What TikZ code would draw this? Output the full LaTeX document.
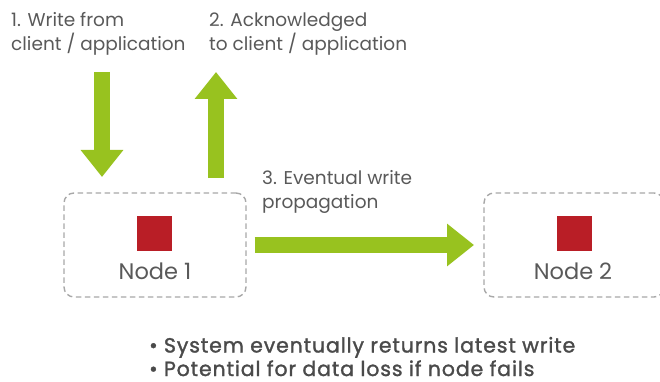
\documentclass[tikz,border=0pt]{standalone}
\usepackage{fontspec}
\setmainfont{Poppins}
\newfontfamily\bulletfont[FakeBold=1.4,LetterSpace=4.2]{Poppins}
\usepackage{tikz}
\usetikzlibrary{arrows.meta}
\usetikzlibrary{positioning}
\usetikzlibrary{calc}

\definecolor{flowgreen}{HTML}{98C21F}
\definecolor{nodered}{HTML}{B91E26}
\definecolor{boxgray}{HTML}{A8A8A8}
\definecolor{textgray}{HTML}{595959}
\definecolor{bulletgray}{HTML}{4A4A4A}

\begin{document}
\begin{tikzpicture}[x=1pt,y=-1pt,
    flow/.style={draw=flowgreen,line width=16pt,-{Triangle[width=41pt,length=27pt]}},
    nodebox/.style={draw=boxgray,line width=1.4pt,dash pattern=on 5.5pt off 3.5pt,rounded corners=10pt,minimum height=104pt,inner sep=0pt},
    redsq/.style={fill=nodered,minimum size=35pt,inner sep=0pt},
    lbl/.style={text=textgray,font=\fontsize{18.5}{24}\selectfont,align=left,inner sep=0pt,anchor=base west},
    nodetxt/.style={text=textgray,font=\fontsize{22.5}{24}\selectfont,inner sep=0pt,anchor=base}]
  \useasboundingbox (0,0) rectangle (660,382);
  % labels (base = last line)
  \node[lbl] (write) at (11,51) {1. Write from\\client / application};
  \node[lbl] (ack) at (209,51) {2. Acknowledged\\to client / application};
  \node[lbl] (prop) at (262,208) {3. Eventual write\\propagation};
  % node 1 and node 2
  \node[nodebox,minimum width=182pt] (n1) at (155,245) {};
  \node[redsq] (sq1) at (154.5,233.5) {};
  \node[nodetxt] (t1) at (155,279) {Node 1};
  \node[nodebox,minimum width=180pt] (n2) at (574,245) {};
  \node[redsq] (sq2) at (574.5,233.5) {};
  \node[nodetxt] (t2) at (573,279) {Node 2};
  % arrows
  \coordinate (wtop) at (102,72);
  \coordinate (abot) at (216,178);
  \draw[flow] (wtop) -- (wtop |- 0,177);
  \draw[flow] (abot) -- (abot |- 0,72);
  \draw[flow] (n1.east |- 0,245) ++(8,0) -- (474,245);
  % bullets
  \node[text=bulletgray,font=\fontsize{20.5}{23.5}\bulletfont,align=left,inner sep=0pt,anchor=base west] (notes) at (149,376)
    {• System eventually returns latest write\\• Potential for data loss if node fails};
\end{tikzpicture}
\end{document}
